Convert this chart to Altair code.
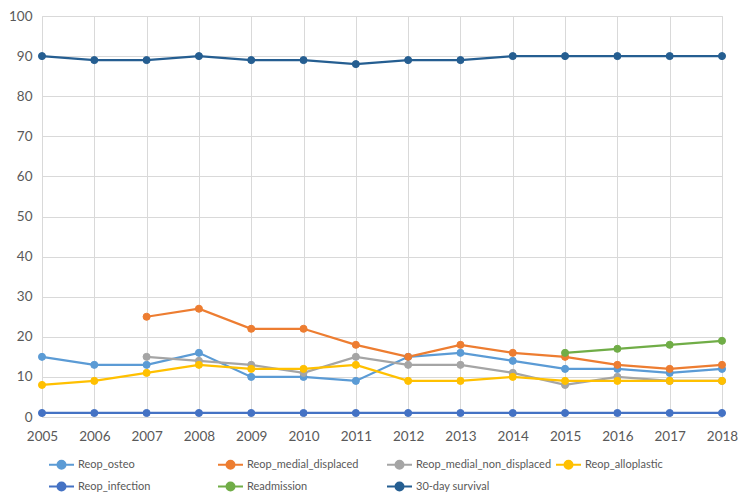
import altair as alt
import pandas as pd

years = list(range(2005, 2019))
series_names = ["Reop_osteo", "Reop_medial_displaced", "Reop_medial_non_displaced",
                "Reop_alloplastic", "Reop_infection", "Readmission", "30-day survival"]
colors = ["#5B9BD5", "#ED7D31", "#A5A5A5", "#FFC000", "#4472C4", "#70AD47", "#255E91"]

reop_osteo = [15, 13, 13, 16, 10, 10, 9, 15, 16, 14, 12, 12, 11, 12]
reop_medial_displaced = [None, None, 25, 27, 22, 22, 18, 15, 18, 16, 15, 13, 12, 13]
reop_medial_non_displaced = [None, None, 15, 14, 13, 11, 15, 13, 13, 11, 8, 10, 9, 9]
reop_alloplastic = [8, 9, 11, 13, 12, 12, 13, 9, 9, 10, 9, 9, 9, 9]
reop_infection = [1, 1, 1, 1, 1, 1, 1, 1, 1, 1, 1, 1, 1, 1]
readmission = [None] * 10 + [16, 17, 18, 19]
survival_30 = [90, 89, 89, 90, 89, 89, 88, 89, 89, 90, 90, 90, 90, 90]

all_values = [reop_osteo, reop_medial_displaced, reop_medial_non_displaced,
              reop_alloplastic, reop_infection, readmission, survival_30]

rows = []
for name, vals in zip(series_names, all_values):
    for y, v in zip(years, vals):
        if v is not None:
            rows.append({"year": y, "value": v, "series": name})
df = pd.DataFrame(rows)

FONT = "Lato"
TXT = "#595959"
symbol_path = ("M-1,0L1,0M-0.32,0A0.32,0.32,0,1,1,0.32,0"
               "A0.32,0.32,0,1,1,-0.32,0Z")

scale = alt.Scale(domain=series_names, range=colors)
legend = alt.Legend(
    title=None, orient="none", legendX=6, legendY=435, columns=4,
    direction="horizontal",
    gridAlign="all", columnPadding=0, rowPadding=-4,
    symbolType=symbol_path, symbolSize=625, symbolStrokeWidth=2,
    labelFont=FONT, labelFontSize=11, labelColor=TXT, labelOffset=3,
    symbolOpacity=1,
)

x = alt.X("year:Q", scale=alt.Scale(domain=[2005, 2018], nice=False, zero=False),
          axis=alt.Axis(title=None, values=years, format="d", labelFlush=False,
                        labelOverlap=False, ticks=False, domain=False,
                        grid=True, gridColor="#D9D9D9", gridWidth=1,
                        labelFont=FONT, labelFontSize=13.5, labelColor=TXT,
                        labelPadding=12))
y = alt.Y("value:Q", scale=alt.Scale(domain=[0, 100], nice=False),
          axis=alt.Axis(title=None, values=list(range(0, 101, 10)), ticks=False,
                        domain=False, grid=True, gridColor="#D9D9D9", gridWidth=1,
                        labelFont=FONT, labelFontSize=13.5, labelColor=TXT,
                        labelPadding=10))

lines = alt.Chart(df).mark_line(strokeWidth=2.25).encode(
    x=x, y=y,
    stroke=alt.Stroke("series:N", scale=scale, legend=legend),
    detail="series:N",
)
points = alt.Chart(df).mark_point(filled=True, size=50, strokeWidth=1, opacity=1).encode(
    x=x, y=y,
    fill=alt.Fill("series:N", scale=scale, legend=legend),
    stroke=alt.Stroke("series:N", scale=scale, legend=legend),
)

chart = alt.layer(lines, points).properties(
    width=680, height=401,
    autosize=alt.AutoSizeParams(type="none"),
    padding={"left": 34, "top": 8, "right": 20, "bottom": 75},
).configure_view(stroke=None).configure(background="white")

chart.save("out.html", embed_options={"renderer": "svg", "actions": False})
